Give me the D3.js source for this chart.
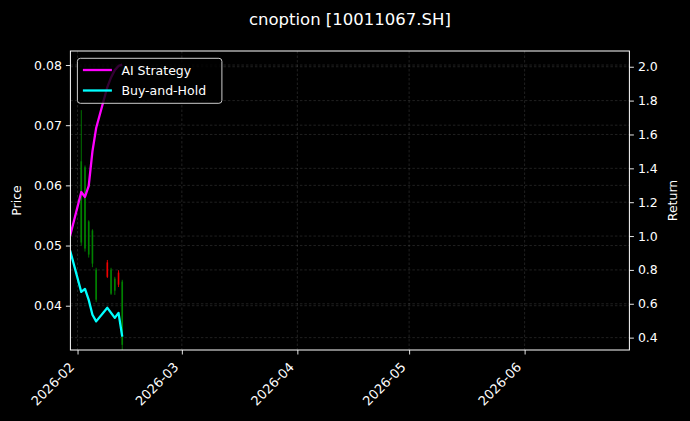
<!DOCTYPE html>
<html>
<head>
<meta charset="utf-8">
<script src="https://cdn.jsdelivr.net/npm/d3@7"></script>
<style>
  html, body { margin: 0; padding: 0; background: #000; }
  svg { display: block; font-family: "DejaVu Sans", sans-serif; }
</style>
</head>
<body>
<div id="chart"></div>
<script>
'use strict';

// trading days shown in the chart
const dates = ['2026-01-30', '2026-02-02', '2026-02-03', '2026-02-04', '2026-02-05', '2026-02-06',
    '2026-02-09', '2026-02-10', '2026-02-11', '2026-02-12', '2026-02-13'];

// option prices (null = no candle drawn)
const opens  = [null, 0.0640, 0.0630, 0.0540, 0.0525, 0.0460, 0.0448, 0.0460, 0.0445, 0.0435, 0.0440];
const highs  = [null, 0.0725, 0.0633, 0.0542, 0.0527, 0.0463, 0.0476, 0.0463, 0.0448, 0.0459, 0.0443];
const lows   = [null, 0.0500, 0.0490, 0.0480, 0.0464, 0.0406, 0.0446, 0.0418, 0.0418, 0.0431, 0.0322];
const closes = [null, 0.0505, 0.0495, 0.0485, 0.0470, 0.0410, 0.0472, 0.0420, 0.0425, 0.0455, 0.0335];

// cumulative returns
const aiStrategy = [1.000, 1.260, 1.231, 1.296, 1.500, 1.638, 1.880, 1.937, 1.980, 2.005, 2.013];
const buyAndHold = [0.915, 0.670, 0.688, 0.623, 0.535, 0.496, 0.576, 0.546, 0.517, 0.546, 0.406];

const priceTicks = [0.04, 0.05, 0.06, 0.07, 0.08];
const returnTicks = [0.4, 0.6, 0.8, 1.0, 1.2, 1.4, 1.6, 1.8, 2.0];
const title = 'cnoption [10011067.SH]';

const W = 690, H = 421;
const margin = {top: 51, right: 60.6, bottom: 71, left: 70.4};
const width = W - margin.left - margin.right,
    height = H - margin.top - margin.bottom;

const parse = d3.timeParse('%Y-%m-%d');
const days = dates.map(parse);

const x = d3.scaleTime()
    .domain([new Date(2026, 0, 30, 2), new Date(2026, 5, 29, 3)])
    .range([0, width]);
const yPrice = d3.scaleLinear().domain([0.03264, 0.08233]).range([height, 0]);
const yRet = d3.scaleLinear().domain([0.327, 2.093]).range([height, 0]);

const svg = d3.select('#chart').append('svg')
    .attr('width', W).attr('height', H)
    .attr('viewBox', [0, 0, W, H]);
svg.append('rect').attr('width', W).attr('height', H).attr('fill', '#000');

svg.append('text')
    .attr('x', margin.left + width / 2).attr('y', 25)
    .attr('text-anchor', 'middle').attr('fill', '#fff')
    .attr('font-size', 16.5).text(title);

const g = svg.append('g').attr('transform', `translate(${margin.left}, ${margin.top})`);

g.append('clipPath').attr('id', 'clip')
    .append('rect').attr('width', width).attr('height', height);

// grid
const grid = g.append('g')
    .attr('stroke', '#fff').attr('stroke-opacity', 0.25)
    .attr('stroke-width', 0.5).attr('stroke-dasharray', '2.5,2');
const monthTicks = x.ticks(d3.timeMonth.every(1));
grid.selectAll('.gx').data(monthTicks).join('line')
    .attr('x1', d => x(d)).attr('x2', d => x(d))
    .attr('y1', 0).attr('y2', height);
grid.selectAll('.gp').data(priceTicks).join('line')
    .attr('x1', 0).attr('x2', width)
    .attr('y1', d => yPrice(d)).attr('y2', d => yPrice(d));
grid.selectAll('.gr').data(returnTicks).join('line')
    .attr('x1', 0).attr('x2', width)
    .attr('y1', d => yRet(d)).attr('y2', d => yRet(d));

// candlesticks
const candles = dates.map((d, i) => ({
    date: days[i], o: opens[i], h: highs[i], l: lows[i], c: closes[i]
})).filter(d => d.o !== null);
const candleColor = d => d.c >= d.o ? '#f00000' : '#008000';

const cg = g.append('g').attr('clip-path', 'url(#clip)');
cg.selectAll('line.wick').data(candles).join('line')
    .attr('class', 'wick')
    .attr('x1', d => x(d.date)).attr('x2', d => x(d.date))
    .attr('y1', d => yPrice(d.h)).attr('y2', d => yPrice(d.l))
    .attr('stroke', candleColor).attr('stroke-width', 0.9);
cg.selectAll('rect.body').data(candles).join('rect')
    .attr('class', 'body')
    .attr('x', d => x(d.date) - 0.8).attr('width', 1.6)
    .attr('y', d => yPrice(Math.max(d.o, d.c)))
    .attr('height', d => Math.max(0.8, Math.abs(yPrice(d.o) - yPrice(d.c))))
    .attr('fill', candleColor);

// return lines
const retLine = vals => d3.line()
    .x((d, i) => x(days[i]))
    .y(d => yRet(d))(vals);
cg.append('path').attr('d', retLine(aiStrategy))
    .attr('fill', 'none').attr('stroke', '#ff00ff').attr('stroke-width', 2.3)
    .attr('stroke-linejoin', 'round');
cg.append('path').attr('d', retLine(buyAndHold))
    .attr('fill', 'none').attr('stroke', '#00ffff').attr('stroke-width', 2.3)
    .attr('stroke-linejoin', 'round');

// axes
const styleAxis = sel => {
    sel.select('.domain').remove();
    sel.selectAll('.tick line').attr('stroke', '#fff').attr('stroke-width', 0.9);
    sel.selectAll('.tick text').attr('fill', '#fff').attr('font-size', 12.5)
        .attr('font-family', '"DejaVu Sans", sans-serif');
};
g.append('g')
    .call(d3.axisLeft(yPrice).tickValues(priceTicks).tickFormat(d3.format('.2f')).tickSize(4.5).tickPadding(4))
    .call(styleAxis);
g.append('g')
    .attr('transform', `translate(${width}, 0)`)
    .call(d3.axisRight(yRet).tickValues(returnTicks).tickFormat(d3.format('.1f')).tickSize(4.5).tickPadding(4))
    .call(styleAxis);
const xa = g.append('g')
    .attr('transform', `translate(0, ${height})`)
    .call(d3.axisBottom(x).tickValues(monthTicks).tickFormat(d3.timeFormat('%Y-%m')).tickSize(4.5))
    .call(styleAxis);
xa.selectAll('.tick text')
    .attr('text-anchor', 'end')
    .attr('dy', null).attr('y', 0)
    .attr('font-size', 13)
    .attr('transform', 'translate(-3, 18) rotate(-45)');

g.append('rect').attr('width', width).attr('height', height)
    .attr('fill', 'none').attr('stroke', '#fff').attr('stroke-width', 1);

// axis labels
svg.append('text')
    .attr('transform', `translate(21, ${margin.top + height / 2}) rotate(-90)`)
    .attr('text-anchor', 'middle').attr('fill', '#fff').attr('font-size', 12.5)
    .text('Price');
svg.append('text')
    .attr('transform', `translate(677, ${margin.top + height / 2}) rotate(-90)`)
    .attr('text-anchor', 'middle').attr('fill', '#fff').attr('font-size', 12.5)
    .text('Return');

// legend
const legendItems = [
    {name: 'AI Strategy', color: '#ff00ff'},
    {name: 'Buy-and-Hold', color: '#00ffff'},
];
const lg = g.append('g').attr('transform', 'translate(7, 7.3)');
lg.append('rect')
    .attr('width', 144.5).attr('height', 45).attr('rx', 3)
    .attr('fill', '#000').attr('fill-opacity', 0.8)
    .attr('stroke', '#ccc').attr('stroke-width', 1);
const li = lg.selectAll('g.item').data(legendItems).join('g')
    .attr('transform', (d, i) => `translate(0, ${11.7 + i * 20.5})`);
li.append('line')
    .attr('x1', 5.5).attr('x2', 34.5)
    .attr('stroke', d => d.color).attr('stroke-width', 2.3);
li.append('text')
    .attr('x', 44).attr('y', 4.5)
    .attr('fill', '#fff').attr('font-size', 12.5)
    .text(d => d.name);
</script>
</body>
</html>
